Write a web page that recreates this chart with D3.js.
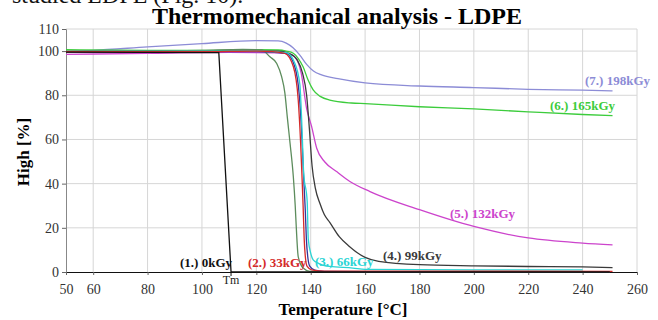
<!DOCTYPE html>
<html>
<head>
<meta charset="utf-8">
<script src="https://cdn.jsdelivr.net/npm/d3@7"></script>
<style>
  body { margin: 0; background: #fff; }
  svg { display: block; }
  svg text { font-family: "Liberation Serif", "Times New Roman", serif; }
</style>
</head>
<body>
<svg class="chart" width="658" height="320"></svg>
<script>
// tick values
var xTicks = [50, 60, 80, 100, 120, 140, 160, 180, 200, 220, 240, 260]
var yTicks = [0, 20, 40, 60, 80, 100, 110]

// curves: [temperature, high %]
var s198 = [[50,99.8],[60,100.3],[80,101.9],[100,103.4],[120,104.7],[128,104.6],[131,103.6],[133.5,101.5],[136,98.2],[138.5,94],[141,91],[144,89.2],[150,87.5],[160,85.6],[180,84.2],[200,83.5],[220,82.7],[240,82.3],[251,82]]
var s165 = [[50,100.6],[80,100.3],[100,100.3],[120,100.6],[128,100.5],[131,100],[133.6,99],[135.5,96.5],[137.2,92.9],[139,87],[140.9,82.4],[143.5,79.5],[147,77.8],[155,76.5],[160,76.2],[180,74.8],[200,73.8],[220,72.5],[240,71.3],[251,70.8]]
var s132 = [[50,98.5],[80,99],[110,99.4],[128,99.2],[132,98.8],[134.5,97],[136.5,90],[138.5,74],[140.3,66],[142.2,56],[145.2,49.8],[149.5,45.5],[154.4,41],[161.8,36.4],[180,28.2],[200,20.6],[220,15.4],[240,13.1],[251,12.3]]
var s99 = [[50,99.8],[100,100],[128,100],[132,99],[135,96],[137,90],[138.5,80],[139.5,65],[140.5,48],[141.7,38],[143.4,31],[145,26],[147,22.5],[150.5,16],[154,11.8],[160,6.6],[165,4.8],[180,3.3],[200,2.8],[220,2.5],[240,2.3],[251,2]]
var sExtraGreen = [[50,100],[80,100],[100,100.3],[115,100.8],[122,100.5],[125,97.4],[127.5,94.4],[129.3,88.4],[130.5,81],[131.4,70],[132.4,58.3],[133.6,43.2],[134.3,30],[134.7,20],[135.4,7],[137.2,1.8],[139.7,0.3],[150,0.1],[250,0.1]]
var sExtraBlue = [[50,99.5],[120,99.8],[131,99],[134,93.5],[135.8,80],[136.8,60],[137.4,43],[138,28],[138.4,15],[139,6],[139.7,2.5],[141.5,0.8],[145,0.3],[160,0.2],[250,0.2]]
var s66 = [[50,99.8],[120,100],[131,99.3],[134,95],[136,85],[136.8,65],[137.4,45],[138.7,32],[139.1,15],[140,8.5],[140.9,5.5],[143,3.8],[147,2.5],[155.5,1.8],[160,1.2],[200,1],[240,1]]
var s33 = [[50,99.7],[100,99.7],[120,100],[126,99.8],[130.5,99],[133.6,93],[135.4,78],[136.3,58],[136.8,43],[137.2,30],[137.6,15],[138.1,6],[138.7,2.5],[140.3,1],[145,0.4],[251,0.3]]
var s0 = [[50,99.5],[106.2,99.3],[110.7,0],[250,0]]

var series = [
  { name: '(7.) 198kGy', data: s198, color: '#8c8cd6', curve: d3.curveMonotoneX, lx: 585, ly: 85 },
  { name: '(6.) 165kGy', data: s165, color: '#3ccc3c', curve: d3.curveMonotoneX, lx: 550, ly: 110 },
  { name: '(5.) 132kGy', data: s132, color: '#cc44cc', curve: d3.curveMonotoneX, lx: 450, ly: 218 },
  { name: '(4.) 99kGy', data: s99, color: '#3a3a3a', curve: d3.curveMonotoneX, lx: 383, ly: 260 },
  { name: null, data: sExtraGreen, color: '#5c8c5c', curve: d3.curveMonotoneX },
  { name: null, data: sExtraBlue, color: '#34349a', curve: d3.curveMonotoneX },
  { name: '(3.) 66kGy', data: s66, color: '#2ad4d4', curve: d3.curveMonotoneX, lx: 315, ly: 266 },
  { name: '(2.) 33kGy', data: s33, color: '#d42a2a', curve: d3.curveMonotoneX, lx: 248, ly: 267 },
  { name: '(1.) 0kGy', data: s0, color: '#111', curve: d3.curveLinear, lx: 180, ly: 267 }
]

var svg = d3.select('.chart')

var x = d3.scaleLinear().domain([50, 260]).range([66, 637])
var y = d3.scaleLinear().domain([0, 110]).range([272, 29])

// cropped line of text above the figure
svg.append('text')
    .attr('x', 12).attr('y', 3)
    .attr('font-size', 24)
    .attr('fill', '#111')
    .text('studied LDPE (Fig. 10).')

// grid
svg.append('g').selectAll('line')
    .data(yTicks.filter(function(d) { return d > 0 }))
  .enter().append('line')
    .attr('x1', x(50)).attr('x2', x(260))
    .attr('y1', function(d) { return y(d) }).attr('y2', function(d) { return y(d) })
    .attr('stroke', '#d6d6d6')
svg.append('g').selectAll('line')
    .data(xTicks.filter(function(d) { return d > 50 }))
  .enter().append('line')
    .attr('x1', function(d) { return x(d) }).attr('x2', function(d) { return x(d) })
    .attr('y1', y(0)).attr('y2', y(110))
    .attr('stroke', '#d6d6d6')

// axes
var yAxis = svg.append('g')
    .attr('transform', `translate(${x(50)},0)`)
    .call(d3.axisLeft(y).tickValues(yTicks).tickSize(4).tickPadding(3))
yAxis.select('.domain').attr('stroke', '#888')
yAxis.selectAll('.tick line').attr('stroke', '#666')
yAxis.selectAll('text').attr('font-size', 14).attr('fill', '#333')

var xAxis = svg.append('g')
    .attr('transform', `translate(0,${y(0)})`)
    .call(d3.axisBottom(x).tickValues(xTicks).tickSize(3).tickPadding(9))
xAxis.select('.domain').attr('stroke', '#111')
xAxis.selectAll('.tick line').attr('stroke', '#666')
xAxis.selectAll('text').attr('font-size', 14).attr('fill', '#333')

// curves
var line = d3.line().x(function(d) { return x(d[0]) }).y(function(d) { return y(d[1]) })
series.forEach(function(s) {
  svg.append('path')
      .attr('d', line.curve(s.curve)(s.data))
      .attr('fill', 'none')
      .attr('stroke', s.color)
      .attr('stroke-width', 1.3)
})

// Tm tick below the axis
svg.append('line')
    .attr('x1', x(110.7)).attr('x2', x(110.7))
    .attr('y1', y(0)).attr('y2', y(0) + 4)
    .attr('stroke', '#111')
svg.append('text')
    .attr('x', x(110.7)).attr('y', 284)
    .attr('text-anchor', 'middle')
    .attr('font-size', 12).attr('fill', '#222')
    .text('Tm')

// series labels
svg.append('g').selectAll('text')
    .data(series.filter(function(s) { return s.name }))
  .enter().append('text')
    .attr('x', function(s) { return s.lx }).attr('y', function(s) { return s.ly })
    .attr('font-size', 13).attr('font-weight', 'bold')
    .attr('fill', function(s) { return s.color })
    .text(function(s) { return s.name })

// titles
svg.append('text')
    .attr('x', 337).attr('y', 24)
    .attr('text-anchor', 'middle')
    .attr('font-size', 24).attr('font-weight', 'bold')
    .text('Thermomechanical analysis - LDPE')
svg.append('text')
    .attr('x', 343).attr('y', 315)
    .attr('text-anchor', 'middle')
    .attr('font-size', 17).attr('font-weight', 'bold')
    .text('Temperature [°C]')
svg.append('text')
    .attr('transform', 'translate(29,152) rotate(-90)')
    .attr('text-anchor', 'middle')
    .attr('font-size', 17).attr('font-weight', 'bold')
    .text('High [%]')
</script>
</body>
</html>
